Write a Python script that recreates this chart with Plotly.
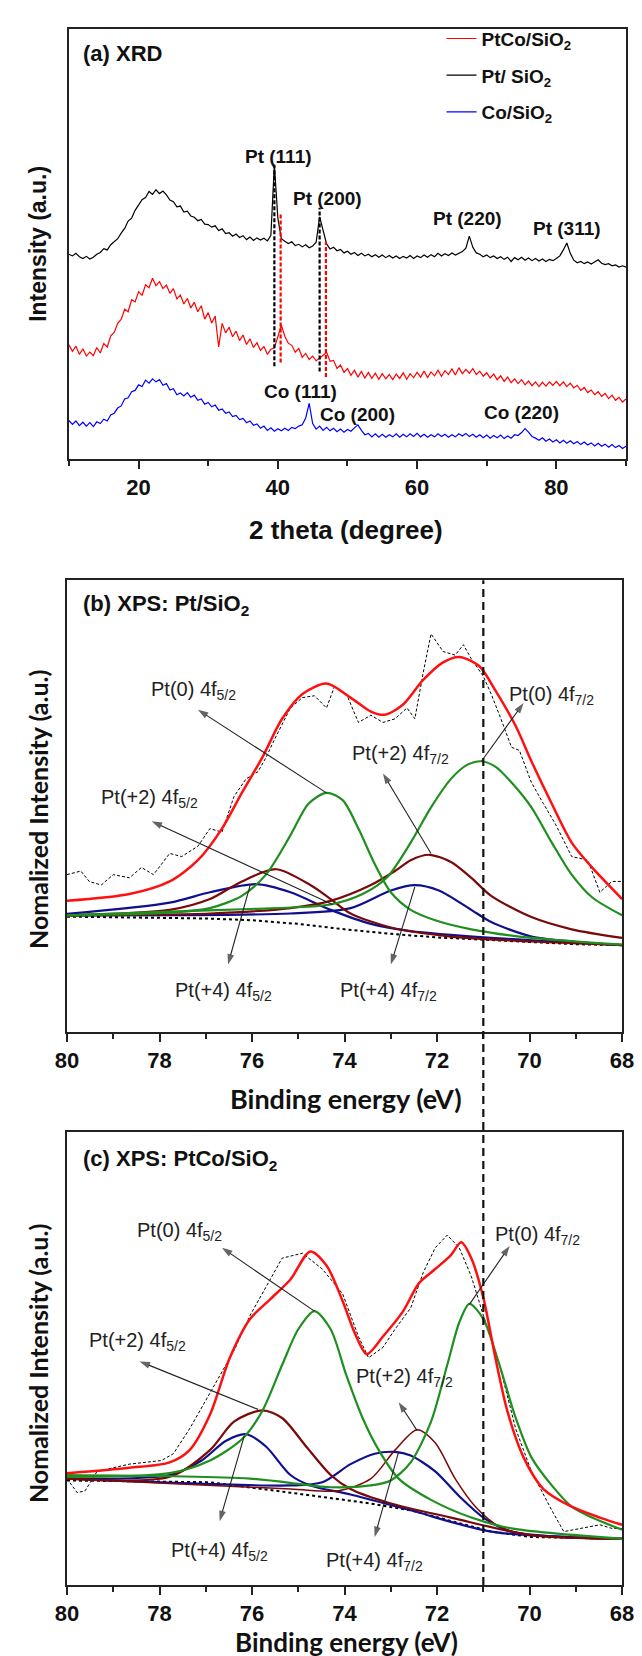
import plotly.graph_objects as go

# ---------------- (a) XRD data : 2theta grid 10..90 step 0.5 ----------------
xrd_start, xrd_step = 10.0, 0.5

xrd_pt = [
    47.6, 47.2, 47.8, 47.0, 46.6, 47.1, 46.5, 46.9, 47.6, 48.0,
    48.9, 48.6, 49.8, 50.6, 51.2, 52.5, 53.6, 55.3, 56.0, 57.8,
    59.0, 60.3, 60.8, 62.2, 61.5, 62.6, 61.7, 62.3, 61.4, 60.2,
    59.8, 58.6, 58.8, 57.4, 57.6, 56.5, 56.2, 55.4, 55.7, 54.6,
    54.5, 53.9, 54.2, 53.1, 53.5, 52.4, 52.6, 51.8, 52.3, 51.5,
    51.9, 51.0, 51.6, 50.8, 51.4, 50.9, 51.3, 50.7, 52.0, 68.4,
    56.0, 51.2, 50.6, 50.1, 50.5, 49.6, 49.9, 49.3, 49.8, 49.1,
    49.5, 50.4, 56.3, 53.2, 50.0, 48.8, 49.2, 48.4, 48.7, 47.9,
    48.3, 47.6, 48.0, 47.3, 47.8, 47.2, 47.6, 47.0, 47.5, 46.9,
    47.4, 46.8, 47.3, 46.7, 47.2, 46.6, 47.1, 46.7, 47.3, 46.6,
    47.2, 46.8, 47.4, 46.9, 47.5, 47.0, 47.8, 47.2, 47.7, 47.3,
    47.9, 47.4, 47.8, 48.2, 49.0, 51.8, 49.2, 47.9, 47.6, 47.0,
    47.4, 46.8, 47.2, 46.6, 47.0, 46.4, 46.9, 45.9, 46.8, 46.3,
    46.9, 46.2, 46.7, 46.1, 46.6, 46.0, 46.5, 45.9, 46.4, 46.1,
    46.6, 47.2, 48.6, 50.2, 47.8, 46.2, 45.6, 45.9, 45.4, 45.8,
    45.3, 45.9, 46.3, 45.5, 45.2, 45.4, 44.9, 45.1, 44.6, 44.9,
    44.6,
]

xrd_ptco = [
    26.5, 25.0, 26.2, 24.3, 25.6, 23.9, 24.8, 24.0, 25.9, 24.6,
    26.8, 26.0, 28.6, 29.4, 31.5, 32.4, 34.8, 34.2, 37.0, 36.5,
    38.9, 38.0, 40.5, 39.8, 42.0, 40.3, 41.2, 39.6, 40.4, 38.5,
    39.6, 37.2, 38.1, 36.0, 37.3, 35.1, 36.4, 34.2, 35.6, 32.5,
    34.0, 31.6, 33.2, 26.0, 31.5, 29.3, 30.6, 28.4, 29.7, 27.5,
    28.8, 26.6, 27.9, 25.9, 27.0, 25.2, 26.1, 24.3, 25.5, 25.8,
    28.4, 31.1, 28.5, 26.9, 26.4, 24.8, 25.7, 23.6, 24.5, 23.1,
    23.9, 22.8, 23.4, 24.2, 24.8, 22.7, 22.9, 21.0, 21.8, 20.1,
    21.0, 19.4, 20.6, 19.0, 20.3, 18.8, 20.1, 18.7, 19.9, 18.5,
    19.8, 18.6, 19.6, 18.4, 19.7, 18.7, 20.0, 18.5, 19.8, 18.9,
    20.1, 19.0, 20.4, 18.9, 20.2, 19.3, 20.6, 19.2, 20.5, 19.6,
    20.9, 19.5, 21.2, 19.8, 20.8, 19.9, 21.0, 19.6, 20.4, 19.2,
    20.0, 18.8, 19.7, 18.4, 19.3, 18.0, 19.0, 17.7, 18.6, 17.5,
    18.4, 17.2, 18.1, 17.0, 17.9, 16.8, 17.8, 16.9, 17.9, 17.1,
    18.0, 17.0, 17.9, 16.8, 17.6, 16.5, 17.1, 15.9, 16.6, 15.4,
    16.0, 14.9, 15.6, 14.5, 15.2, 14.0, 14.8, 13.6, 14.3, 13.2,
    13.9,
]

xrd_co = [
    8.9, 8.0, 8.8, 7.7, 8.5, 7.6, 8.4, 7.5, 8.6, 8.2,
    9.2, 8.8, 10.2, 10.6, 11.8, 12.3, 13.9, 14.2, 15.6, 15.9,
    17.2, 16.8, 18.3, 17.6, 18.6, 17.9, 18.4, 17.1, 17.5, 16.0,
    16.3, 14.9, 15.3, 14.6, 15.4, 14.3, 14.8, 13.6, 13.9, 12.7,
    13.1, 12.1, 12.5, 11.3, 11.6, 10.6, 10.9, 9.8, 10.1, 9.1,
    9.4, 8.4, 8.8, 7.8, 8.1, 7.1, 7.6, 6.6, 7.2, 6.4,
    7.0, 6.5, 7.1, 6.6, 7.3, 7.0, 7.6, 7.9, 9.5, 12.9,
    8.2, 6.9, 7.6, 6.6, 7.3, 6.5, 7.1, 6.3, 6.9, 6.2,
    6.8, 6.4, 7.2, 7.9, 6.6, 5.6, 5.9, 5.1, 5.8, 5.0,
    5.7, 5.0, 5.6, 5.1, 5.8, 5.0, 5.7, 5.1, 5.8, 5.2,
    5.9, 5.1, 5.7, 5.0, 5.6, 5.1, 5.8, 5.2, 5.7, 5.0,
    5.6, 5.1, 5.8, 5.3, 5.9, 5.2, 5.7, 5.0, 5.6, 4.9,
    5.5, 4.8, 5.4, 4.9, 5.5, 4.7, 5.3, 4.8, 5.6, 5.4,
    6.1, 7.0, 6.2, 5.2, 4.8, 4.3, 4.9, 4.1, 4.6, 3.9,
    4.4, 3.7, 4.3, 3.6, 4.2, 3.5, 4.0, 3.3, 3.9, 3.2,
    3.7, 3.0, 3.6, 2.9, 3.4, 2.7, 3.3, 2.6, 3.1, 2.4,
    2.9,
]

# reference peak lines (2theta, bottom, top, colour)
peak_line_x = [39.5, 40.4, 46.0, 46.9]
peak_line_y0 = [21.5, 22.4, 20.3, 19.0]
peak_line_y1 = [68.4, 57.2, 58.4, 50.5]
peak_line_col = ["black", "red", "black", "red"]

xrd_labels = ["Pt (111)", "Pt (200)", "Pt (220)", "Pt (311)", "Co (111)", "Co (200)", "Co (220)"]
xrd_label_x = [40.1, 47.2, 67.3, 81.5, 43.3, 51.4, 75.0]
xrd_label_y = [70.4, 60.5, 55.8, 53.6, 15.7, 10.4, 10.8]

# ---------------- (b) XPS Pt/SiO2 ----------------
b_raw_x = [80.0, 79.70, 79.52, 79.26, 79.0, 78.65, 78.39, 78.13, 77.78, 77.52, 77.17, 76.91, 76.65, 76.39,
           76.13, 75.87, 75.70, 75.52, 75.17, 74.91, 74.65, 74.39, 74.22, 73.96, 73.70, 73.43, 73.17, 72.91,
           72.65, 72.48, 72.30, 72.13, 71.87, 71.61, 71.43, 71.26, 71.0, 70.83, 70.65, 70.39, 70.22, 69.96,
           69.70, 69.43, 69.09, 68.74, 68.48, 68.22, 68.0]
b_raw_y = [34.8, 35.6, 33.3, 32.5, 34.8, 34.1, 36.4, 34.8, 39.5, 38.8, 41.1, 45.0, 44.2, 52.1,
           56.0, 57.6, 60.7, 64.6, 71.7, 74.0, 74.4, 71.7, 76.4, 74.8, 68.5, 70.1, 68.5, 69.3,
           71.7, 69.3, 79.5, 88.1, 84.2, 83.4, 85.7, 82.6, 78.7, 74.8, 70.1, 63.0, 62.3, 55.2,
           50.5, 45.8, 38.8, 38.0, 30.9, 33.3, 33.3]

b_bg_x = [80.0, 77.0, 76.0, 75.0, 74.0, 73.0, 72.0, 71.0, 70.0, 69.0, 68.0]
b_bg_y = [25.5, 25.1, 24.7, 23.9, 22.7, 21.7, 20.9, 20.4, 19.8, 19.4, 19.2]

b_env_x = [80.0, 78.65, 77.78, 77.17, 76.65, 76.22, 75.78, 75.35, 74.91, 74.39, 73.87, 73.43, 73.13,
           72.74, 72.30, 71.87, 71.52, 71.09, 70.74, 70.30, 69.96, 69.52, 69.09, 68.65, 68.0]
b_env_y = [29.0, 30.5, 33.3, 38.0, 45.0, 52.9, 60.7, 69.3, 74.8, 77.1, 74.0, 70.9, 70.2,
           72.4, 77.9, 81.8, 83.0, 81.0, 75.6, 67.7, 59.9, 50.5, 41.9, 36.4, 29.4]

b_pt0_72_x = [80.0, 77.78, 76.04, 74.30, 73.61, 73.09, 72.57, 72.13, 71.70, 71.35, 71.04, 70.74, 70.39,
              69.96, 69.52, 69.09, 68.65, 68.0]
b_pt0_72_y = [25.8, 26.6, 27.2, 28.2, 30.5, 34.1, 41.9, 49.7, 56.0, 59.1, 59.9, 58.7, 55.2,
              49.7, 41.9, 34.8, 29.8, 25.8]
b_pt0_52_x = [80.0, 77.78, 76.91, 76.22, 75.70, 75.17, 74.78, 74.39, 74.04, 73.70, 73.35, 73.0, 72.57,
              72.04, 71.26, 69.96, 68.0]
b_pt0_52_y = [25.8, 26.4, 27.4, 30.1, 34.8, 43.5, 50.5, 52.9, 51.3, 45.0, 37.2, 30.9, 27.0,
              24.7, 22.7, 20.8, 19.3]
b_pt2_72_x = [80.0, 76.91, 75.17, 74.30, 73.43, 72.91, 72.57, 72.17, 71.70, 71.26, 70.83, 69.96, 69.09, 68.0]
b_pt2_72_y = [25.8, 26.2, 27.4, 29.0, 32.5, 35.6, 38.0, 39.2, 37.6, 34.1, 30.1, 25.4, 22.7, 20.8]
b_pt2_52_x = [80.0, 77.78, 76.91, 76.22, 75.48, 74.74, 74.30, 73.87, 73.0, 71.70, 69.96, 68.0]
b_pt2_52_y = [25.8, 27.0, 29.4, 33.3, 36.0, 32.5, 29.4, 26.2, 23.1, 21.1, 20.0, 19.2]
b_pt4_72_x = [80.0, 75.17, 73.87, 73.0, 72.48, 71.96, 71.26, 70.83, 69.96, 69.09, 68.0]
b_pt4_72_y = [25.8, 26.2, 27.4, 31.3, 32.5, 31.3, 27.0, 24.3, 21.1, 20.0, 19.2]
b_pt4_52_x = [80.0, 77.78, 76.91, 75.91, 75.17, 74.30, 73.43, 72.57, 70.83, 68.0]
b_pt4_52_y = [26.1, 28.6, 30.9, 32.7, 30.9, 27.0, 23.9, 22.3, 20.8, 19.2]

# ---------------- (c) XPS PtCo/SiO2 ----------------
c_raw_x = [80.0, 79.78, 79.61, 79.35, 78.65, 77.96, 77.70, 77.35, 76.91, 76.39, 76.04, 75.70, 75.35,
           74.91, 74.48, 74.04, 73.70, 73.48, 73.17, 72.91, 72.57, 72.30, 72.04, 71.78, 71.52, 71.26,
           71.0, 70.65, 70.30, 69.96, 69.52, 69.26, 68.91, 68.48, 68.22, 68.0]
c_raw_y = [23.5, 20.4, 20.8, 25.1, 26.7, 27.5, 29.0, 34.5, 42.4, 51.8, 59.6, 65.9, 72.2,
           73.3, 69.8, 64.3, 54.9, 50.2, 52.5, 56.5, 61.2, 69.0, 74.5, 77.3, 74.5, 68.2,
           59.6, 48.6, 34.5, 25.1, 16.5, 11.8, 12.5, 13.3, 12.5, 12.5]

c_bg_x = [80.0, 76.91, 75.17, 74.30, 73.43, 72.57, 71.70, 70.83, 69.96, 68.0]
c_bg_y = [23.1, 22.7, 20.4, 19.2, 18.0, 16.5, 14.1, 11.8, 10.6, 10.2]

c_env_x = [80.0, 78.65, 77.78, 77.35, 76.91, 76.48, 76.04, 75.61, 75.17, 74.74, 74.39, 74.04, 73.78,
           73.52, 73.17, 72.74, 72.39, 72.04, 71.70, 71.48, 71.26, 71.0, 70.74, 70.48, 70.13, 69.70,
           69.09, 68.48, 68.0]
c_env_y = [24.7, 25.9, 27.1, 29.8, 37.6, 50.2, 58.8, 63.1, 67.5, 73.7, 70.6, 62.7, 55.7,
           51.0, 54.9, 60.4, 66.7, 69.8, 72.9, 75.7, 72.2, 63.5, 50.2, 38.4, 28.2, 21.2,
           17.3, 14.9, 13.3]

c_pt0_52_x = [80.0, 77.78, 76.91, 76.22, 75.78, 75.35, 75.0, 74.65, 74.30, 73.96, 73.61, 73.26, 72.83,
              72.13, 71.26, 70.39, 68.0]
c_pt0_52_y = [23.9, 24.7, 27.5, 32.2, 38.4, 48.6, 56.5, 60.5, 56.5, 46.3, 36.9, 29.8, 23.5,
              18.8, 14.9, 12.5, 10.2]
c_pt0_72_x = [80.0, 76.04, 74.30, 73.43, 73.0, 72.57, 72.13, 71.78, 71.52, 71.30, 71.0, 70.65, 70.30,
              69.96, 69.52, 69.09, 68.65, 68.0]
c_pt0_72_y = [24.3, 23.5, 21.6, 22.0, 23.1, 27.1, 36.1, 48.6, 58.0, 62.1, 58.8, 48.6, 36.9,
              28.2, 22.0, 17.3, 14.9, 12.2]
c_pt2_52_x = [80.0, 77.78, 76.91, 76.39, 75.78, 75.35, 74.83, 74.30, 73.87, 73.0, 71.70, 69.96, 68.0]
c_pt2_52_y = [23.5, 23.9, 29.8, 36.1, 38.6, 36.9, 30.6, 24.3, 21.2, 18.0, 14.9, 11.0, 10.2]
c_pt2_72_x = [80.0, 75.17, 74.13, 73.43, 72.91, 72.43, 72.04, 71.61, 71.17, 70.65, 69.96, 68.0]
c_pt2_72_y = [23.5, 21.2, 20.8, 23.5, 29.8, 34.3, 31.4, 23.5, 17.3, 12.9, 11.0, 10.2]
c_pt4_52_x = [80.0, 77.78, 77.09, 76.57, 76.13, 75.70, 75.17, 74.74, 73.87, 72.57, 70.83, 68.0]
c_pt4_52_y = [23.5, 24.3, 27.5, 31.8, 33.3, 30.6, 24.3, 22.0, 20.0, 16.5, 11.8, 10.2]
c_pt4_72_x = [80.0, 75.17, 74.48, 73.87, 73.35, 72.91, 72.57, 72.04, 71.52, 71.0, 70.39, 68.0]
c_pt4_72_y = [23.5, 22.0, 22.7, 26.7, 29.0, 29.4, 28.6, 25.1, 19.6, 14.9, 11.8, 10.2]

# XPS component labels: text, text position, arrow head, arrow tail
xps_labels = ["Pt(0) 4f<sub>5/2</sub>", "Pt(0) 4f<sub>7/2</sub>", "Pt(+2) 4f<sub>7/2</sub>",
              "Pt(+2) 4f<sub>5/2</sub>", "Pt(+4) 4f<sub>5/2</sub>", "Pt(+4) 4f<sub>7/2</sub>"]
b_lab_x = [77.26, 69.52, 72.78, 78.22, 76.61, 73.04]
b_lab_y = [75.6, 74.4, 61.5, 51.7, 9.0, 9.0]
b_head_x = [77.17, 70.13, 73.17, 78.17, 76.52, 73.0]
b_head_y = [71.3, 72.8, 57.2, 46.6, 14.9, 14.9]
b_tail_x = [74.39, 71.04, 72.13, 74.26, 76.04, 72.48]
b_tail_y = [52.9, 59.9, 39.5, 28.2, 32.5, 32.1]

c_lab_x = [77.57, 69.83, 72.70, 78.48, 76.70, 73.35]
c_lab_y = [78.0, 77.3, 45.9, 53.7, 7.5, 5.1]
c_head_x = [76.65, 70.43, 72.83, 78.43, 76.70, 73.35]
c_head_y = [74.5, 74.9, 40.4, 49.4, 14.1, 10.6]
c_tail_x = [74.65, 71.30, 72.43, 75.87, 76.17, 72.83]
c_tail_y = [60.5, 62.0, 34.1, 38.8, 32.9, 29.4]

ref_energy = 71.0

# ---------------- styles ----------------
ARIAL = "Liberation Sans, Arial, sans-serif"
CALIBRI = "Lato, Open Sans, sans-serif"
RED = "#ff1010"
GREEN = "#1f8f1f"
MAROON = "#7a0a0a"
NAVY = "#10108f"

fig = go.Figure()

xrd_x = [xrd_start + xrd_step * i for i in range(len(xrd_pt))]

fig.add_trace(go.Scatter(x=xrd_x, y=xrd_ptco, mode="lines", line=dict(color="#ff0000", width=1.2),
                         name="<b>PtCo/SiO<sub>2</sub></b>", legendgroup="g1", xaxis="x", yaxis="y"))
fig.add_trace(go.Scatter(x=xrd_x, y=xrd_pt, mode="lines", line=dict(color="#000000", width=1.2),
                         name="<b>Pt/ SiO<sub>2</sub></b>", legendgroup="g2", xaxis="x", yaxis="y"))
fig.add_trace(go.Scatter(x=xrd_x, y=xrd_co, mode="lines", line=dict(color="#0000ff", width=1.2),
                         name="<b>Co/SiO<sub>2</sub></b>", legendgroup="g3", xaxis="x", yaxis="y"))

for px, y0, y1, col in zip(peak_line_x, peak_line_y0, peak_line_y1, peak_line_col):
    fig.add_trace(go.Scatter(x=[px, px], y=[y0, y1], mode="lines", showlegend=False,
                             line=dict(color=col, width=2.2, dash="4px,2px"), xaxis="x", yaxis="y"))


def add_xps(xa, ya, raw_x, raw_y, bg_x, bg_y, comps, env_x, env_y):
    fig.add_trace(go.Scatter(x=bg_x, y=bg_y, mode="lines", showlegend=False,
                             line=dict(color="black", width=2, dash="dot"), xaxis=xa, yaxis=ya))
    fig.add_trace(go.Scatter(x=raw_x, y=raw_y, mode="lines", showlegend=False,
                             line=dict(color="black", width=1, dash="3px,2px"), xaxis=xa, yaxis=ya))
    for cx, cy, col, w in comps:
        fig.add_trace(go.Scatter(x=cx, y=cy, mode="lines", showlegend=False,
                                 line=dict(color=col, width=w, shape="spline", smoothing=0.8),
                                 xaxis=xa, yaxis=ya))
    fig.add_trace(go.Scatter(x=env_x, y=env_y, mode="lines", showlegend=False,
                             line=dict(color=RED, width=2.5, shape="spline", smoothing=0.8),
                             xaxis=xa, yaxis=ya))


def add_arrows(xa, ya, hx, hy, tx, ty):
    for x, y, ax, ay in zip(hx, hy, tx, ty):
        fig.add_trace(go.Scatter(x=[ax, x], y=[ay, y], mode="lines+markers", showlegend=False,
                                 line=dict(color="#222", width=1.1),
                                 marker=dict(symbol="arrow", size=[0, 11], angleref="previous",
                                             color="#222", line=dict(width=0)),
                                 xaxis=xa, yaxis=ya, hoverinfo="skip"))


add_xps("x2", "y2", b_raw_x, b_raw_y, b_bg_x, b_bg_y,
        [(b_pt4_52_x, b_pt4_52_y, NAVY, 2.2), (b_pt4_72_x, b_pt4_72_y, NAVY, 2.2),
         (b_pt2_52_x, b_pt2_52_y, MAROON, 2.2), (b_pt2_72_x, b_pt2_72_y, MAROON, 2.2),
         (b_pt0_52_x, b_pt0_52_y, GREEN, 2.2), (b_pt0_72_x, b_pt0_72_y, GREEN, 2.2)],
        b_env_x, b_env_y)
add_xps("x3", "y3", c_raw_x, c_raw_y, c_bg_x, c_bg_y,
        [(c_pt4_52_x, c_pt4_52_y, NAVY, 2.2), (c_pt4_72_x, c_pt4_72_y, NAVY, 2.2),
         (c_pt2_52_x, c_pt2_52_y, MAROON, 2.2), (c_pt2_72_x, c_pt2_72_y, MAROON, 1.5),
         (c_pt0_52_x, c_pt0_52_y, GREEN, 2.2), (c_pt0_72_x, c_pt0_72_y, GREEN, 2.2)],
        c_env_x, c_env_y)
add_arrows("x2", "y2", b_head_x, b_head_y, b_tail_x, b_tail_y)
add_arrows("x3", "y3", c_head_x, c_head_y, c_tail_x, c_tail_y)

annotations = []
for t, x, y in zip(xrd_labels, xrd_label_x, xrd_label_y):
    annotations.append(dict(text="<b>%s</b>" % t, x=x, y=y, xref="x", yref="y", showarrow=False,
                            xanchor="center", yanchor="middle",
                            font=dict(family=ARIAL, size=19, color="#111")))

for xr, yr, lx, ly in (("x2", "y2", b_lab_x, b_lab_y), ("x3", "y3", c_lab_x, c_lab_y)):
    for t, x, y in zip(xps_labels, lx, ly):
        annotations.append(dict(text=t, x=x, y=y, xref=xr, yref=yr, showarrow=False,
                                xanchor="center", yanchor="middle",
                                font=dict(family=ARIAL, size=20, color="#222")))


def paper_text(text, x, y, family, size, angle=0, xanchor="center"):
    return dict(text=text, x=x, y=y, xref="paper", yref="paper", xanchor=xanchor, yanchor="middle",
                textangle=angle, showarrow=False, font=dict(family=family, size=size, color="#111"))


annotations += [
    paper_text("<b>(a) XRD</b>", 0.0246, 0.984, ARIAL, 22, xanchor="left"),
    paper_text("<b>(b) XPS: Pt/SiO<sub>2</sub></b>", 0.0246, 0.6298, ARIAL, 22, xanchor="left"),
    paper_text("<b>(c) XPS: PtCo/SiO<sub>2</sub></b>", 0.0246, 0.273, ARIAL, 22, xanchor="left"),
    paper_text("<b>Intensity (a.u.)</b>", -0.052, 0.8619, ARIAL, 23, angle=-90),
    paper_text("<b>2 theta (degree)</b>", 0.499, 0.6777, ARIAL, 26),
    paper_text("<b>Nomalized Intensity (a.u.)</b>", -0.052, 0.4987, CALIBRI, 25, angle=-90),
    paper_text("<b>Binding energy (eV)</b>", 0.4993, 0.3127, CALIBRI, 27),
    paper_text("<b>Nomalized Intensity (a.u.)</b>", -0.052, 0.1426, CALIBRI, 25, angle=-90),
    paper_text("<b>Binding energy (eV)</b>", 0.4993, -0.0365, CALIBRI, 26),
]

tickfont = dict(family=ARIAL, size=22, color="#111", weight="bold")
common_x = dict(showline=True, linewidth=2, linecolor="#222", mirror=True, ticks="outside",
                ticklen=8, tickwidth=2, tickcolor="#222", showgrid=False, zeroline=False,
                tickfont=tickfont, autorange=False)
common_y = dict(showline=True, linewidth=2, linecolor="#222", mirror=True, ticks="",
                showticklabels=False, showgrid=False, zeroline=False, range=[0, 100], autorange=False)
minor_b = dict(dtick=1, tick0=0, ticks="outside", ticklen=5, tickwidth=2, tickcolor="#222")

fig.update_layout(
    width=642, height=1656,
    margin=dict(l=59, r=14, t=13, b=79),
    paper_bgcolor="white", plot_bgcolor="white",
    xaxis=dict(common_x, domain=[0.0035, 1.0], range=[10, 90], anchor="y", dtick=20, tick0=0,
               minor=dict(dtick=10, tick0=0, ticks="outside", ticklen=5, tickwidth=2, tickcolor="#222")),
    yaxis=dict(common_y, domain=[0.7238, 1.0], anchor="x"),
    xaxis2=dict(common_x, domain=[0.0, 0.993], range=[80, 68], anchor="y2", dtick=2, tick0=0, minor=minor_b),
    yaxis2=dict(common_y, domain=[0.3555, 0.6458], anchor="x2"),
    xaxis3=dict(common_x, domain=[0.0, 0.993], range=[80, 68], anchor="y3", dtick=2, tick0=0, minor=minor_b),
    yaxis3=dict(common_y, domain=[0.0, 0.2909], anchor="x3"),
    legend=dict(x=0.67, y=1.006, xanchor="left", yanchor="top", bgcolor="rgba(0,0,0,0)",
                font=dict(family=ARIAL, size=19, color="#111"), tracegroupgap=9, traceorder="grouped"),
    annotations=annotations,
    shapes=[dict(type="line", xref="x2", yref="paper", x0=ref_energy, x1=ref_energy, y0=0, y1=0.6458,
                 line=dict(color="#111", width=2.2, dash="8px,5px"), layer="above")],
)

fig.write_html("out.html")
